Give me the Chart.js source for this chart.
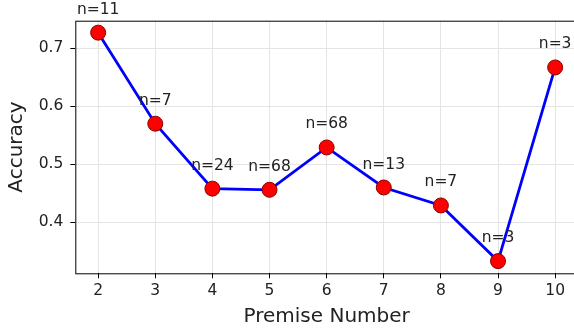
<!DOCTYPE html>
<html>
<head>
<meta charset="utf-8">
<script src="https://cdn.jsdelivr.net/npm/chart.js@4"></script>
<style>
  html, body { margin: 0; padding: 0; background: #fff; overflow: hidden; }
  #accChart { display: block; }
</style>
</head>
<body>
<canvas id="accChart" width="580" height="333"></canvas>
<script>
const premiseNumbers = [2, 3, 4, 5, 6, 7, 8, 9, 10];
const accuracy = [0.727, 0.570, 0.458, 0.456, 0.529, 0.460, 0.429, 0.333, 0.667];
const sampleCounts = [11, 7, 24, 68, 68, 13, 7, 3, 3];
const xTickValues = [2, 3, 4, 5, 6, 7, 8, 9, 10];
const yTickValues = [0.4, 0.5, 0.6, 0.7];

const FONT = 'DejaVu Sans';

// frame around the plot area, like matplotlib spines
const framePlugin = {
  id: 'frame',
  afterDraw(chart) {
    const { ctx, chartArea: a } = chart;
    ctx.save();
    ctx.strokeStyle = '#000';
    ctx.lineWidth = 1;
    ctx.strokeRect(a.left + 0.5, a.top + 0.5, a.right - a.left - 1, a.bottom - a.top);
    ctx.restore();
  }
};

// "n=.." labels above each point
const countLabels = {
  id: 'countLabels',
  afterDatasetsDraw(chart) {
    const { ctx } = chart;
    const meta = chart.getDatasetMeta(0);
    ctx.save();
    ctx.font = `15.5px "${FONT}"`;
    ctx.fillStyle = '#222';
    ctx.textAlign = 'center';
    ctx.textBaseline = 'middle';
    meta.data.forEach((pt, i) => {
      ctx.fillText(`n=${sampleCounts[i]}`, pt.x, pt.y - 23);
    });
    ctx.restore();
  }
};

new Chart(document.getElementById('accChart'), {
  type: 'line',
  data: {
    datasets: [
      {
        data: premiseNumbers.map((x, i) => ({ x, y: accuracy[i] })),
        borderColor: '#0000ff',
        borderWidth: 2.8,
        pointRadius: 7.5,
        pointBackgroundColor: '#ff0000',
        pointBorderColor: '#8b0000',
        pointBorderWidth: 1,
        tension: 0,
        fill: false
      }
    ]
  },
  options: {
    responsive: false,
    animation: false,
    events: [],
    layout: { autoPadding: false, padding: { top: 20.7, right: 2, bottom: 0, left: 0 } },
    plugins: { legend: { display: false }, tooltip: { enabled: false } },
    scales: {
      x: {
        type: 'linear',
        min: 1.6,
        max: 10.4,
        afterFit(scale) { scale.height = 59.7; },
        afterBuildTicks(scale) { scale.ticks = xTickValues.map((v) => ({ value: v })); },
        grid: { color: '#e4e4e4', lineWidth: 1, tickLength: 5, tickColor: '#000', drawTicks: true },
        border: { display: false },
        ticks: { color: '#222', font: { family: FONT, size: 15.5 }, padding: 3, maxRotation: 0 },
        title: { display: true, text: 'Premise Number', color: '#222', font: { family: FONT, size: 20 }, padding: { top: 0, bottom: 4 } }
      },
      y: {
        min: 0.312,
        max: 0.7476,
        afterFit(scale) { scale.width = 75.3; },
        afterBuildTicks(scale) { scale.ticks = yTickValues.map((v) => ({ value: v })); },
        grid: { color: '#e4e4e4', lineWidth: 1, tickLength: 5, tickColor: '#000', drawTicks: true },
        border: { display: false },
        ticks: { color: '#222', font: { family: FONT, size: 15.5 }, padding: 7, callback: (v) => v.toFixed(1) },
        title: { display: true, text: 'Accuracy', color: '#222', font: { family: FONT, size: 20 }, padding: { top: 5, bottom: 0 } }
      }
    }
  },
  plugins: [countLabels, framePlugin]
});
</script>
</body>
</html>
